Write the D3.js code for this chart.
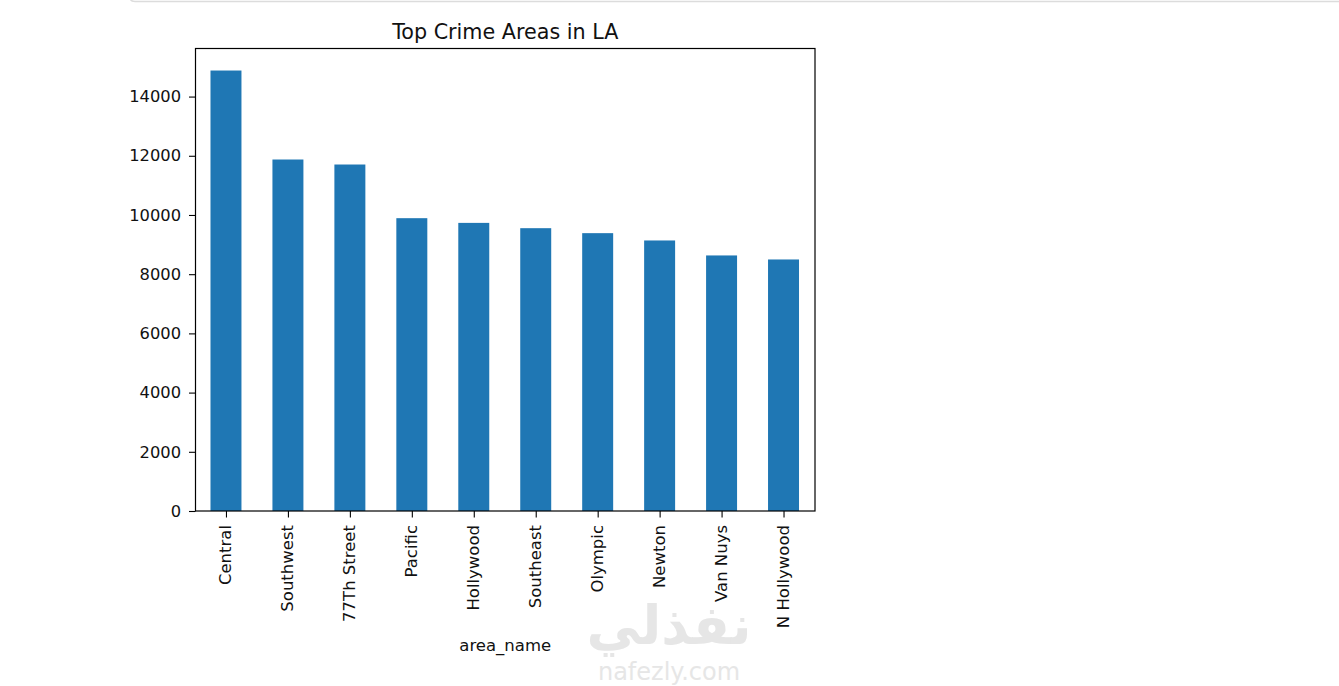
<!DOCTYPE html>
<html>
<head>
<meta charset="utf-8">
<script src="https://cdn.jsdelivr.net/npm/d3@7"></script>
<style>
  body { margin: 0; background: #fff; }
  svg { display: block; }
  text { font-family: "DejaVu Sans", sans-serif; }
</style>
</head>
<body>
<svg id="chart" width="1339" height="686"></svg>
<script>
// data
const areaNames = ["Central", "Southwest", "77Th Street", "Pacific", "Hollywood",
                   "Southeast", "Olympic", "Newton", "Van Nuys", "N Hollywood"]
const crimeCounts = [14880, 11874, 11705, 9892, 9733, 9554, 9386, 9139, 8633, 8497]
const yTicks = [0, 2000, 4000, 6000, 8000, 10000, 12000, 14000]

const svg = d3.select("#chart")

// faint border of the notebook cell above
svg.append("path")
    .attr("d", "M129.5,-4 Q129.5,1.5 135,1.5 H1339")
    .attr("fill", "none")
    .attr("stroke", "#dcdcdc")
    .attr("stroke-width", 1.5)

const plotLeft = 195.5, plotTop = 48.5, plotRight = 815, plotBottom = 511
const W = plotRight - plotLeft, H = plotBottom - plotTop

const x = d3.scaleBand()
    .domain(areaNames)
    .range([0, W])
    .paddingInner(0.5)
    .paddingOuter(0.25)

const y = d3.scaleLinear()
    .domain([0, d3.max(crimeCounts) * 1.05]) // matplotlib margin
    .range([H, 0])

const g = svg.append("g").attr("transform", `translate(${plotLeft},${plotTop})`)

g.selectAll("rect.bar")
    .data(areaNames)
    .join("rect")
    .attr("class", "bar")
    .attr("x", d => x(d) - 0.5)
    .attr("width", x.bandwidth())
    .attr("y", (d, i) => y(crimeCounts[i]))
    .attr("height", (d, i) => H - y(crimeCounts[i]))
    .attr("fill", "#1f77b4")

// y axis
const yAxis = g.append("g")
    .call(d3.axisLeft(y).tickValues(yTicks).tickSize(6.5).tickPadding(8).tickFormat(d3.format("d")))
yAxis.select(".domain").remove()
yAxis.selectAll("line").attr("stroke", "#000").attr("stroke-width", 1.1)
yAxis.selectAll("text")
    .attr("fill", "#111")
    .style("font-size", "16.3px")

// x axis, labels turned upright
const xAxis = g.append("g")
    .attr("transform", `translate(0,${H})`)
    .call(d3.axisBottom(x).tickSize(6.5).tickPadding(6))
xAxis.select(".domain").remove()
xAxis.selectAll("line").attr("stroke", "#000").attr("stroke-width", 1.1)
xAxis.selectAll("text")
    .attr("fill", "#111")
    .style("font-size", "16.5px")
    .attr("transform", "rotate(-90)")
    .attr("text-anchor", "end")
    .attr("x", -14)
    .attr("y", -1)
    .attr("dy", "0.35em")

// frame
g.append("rect")
    .attr("width", W)
    .attr("height", H)
    .attr("fill", "none")
    .attr("stroke", "#000")
    .attr("stroke-width", 1.2)

svg.append("text")
    .attr("x", plotLeft + W / 2)
    .attr("y", 38.5)
    .attr("text-anchor", "middle")
    .attr("fill", "#111")
    .style("font-size", "20.7px")
    .text("Top Crime Areas in LA")

svg.append("text")
    .attr("x", plotLeft + W / 2)
    .attr("y", 651)
    .attr("text-anchor", "middle")
    .attr("fill", "#111")
    .style("font-size", "16.5px")
    .text("area_name")

// watermark
svg.append("text")
    .attr("x", 669)
    .attr("y", 644)
    .attr("text-anchor", "middle")
    .attr("fill", "#e6e6e6")
    .style("font-size", "54px")
    .style("font-weight", "bold")
    .text("نفذلي")

svg.append("text")
    .attr("x", 669)
    .attr("y", 680)
    .attr("text-anchor", "middle")
    .attr("fill", "#e6e6e6")
    .style("font-size", "24px")
    .text("nafezly.com")
</script>
</body>
</html>
